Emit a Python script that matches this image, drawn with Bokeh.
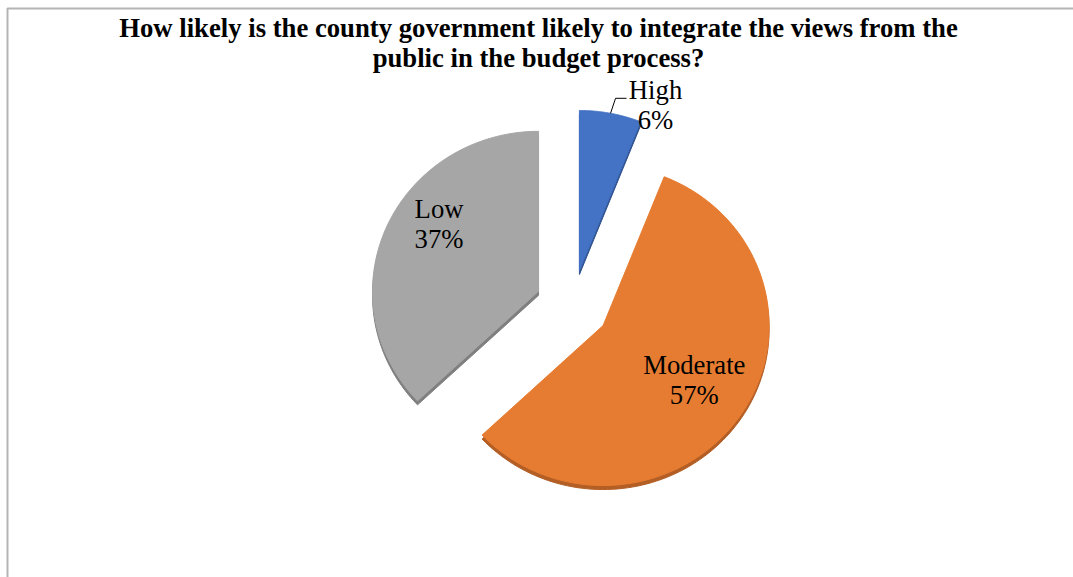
import numpy as np
from bokeh.plotting import figure
from bokeh.models import Range1d, ColumnDataSource
from bokeh.embed import file_html
from bokeh.resources import INLINE
from bokeh.core.properties import value

# ---------------- data ----------------
title_lines = [
    "How likely is the county government likely to integrate the views from the",
    "public in the budget process?",
]
categories = ["High", "Moderate", "Low"]
percent = [6, 57, 37]
colors = ["#4472C4", "#E67C31", "#A6A6A6"]
side_colors = ["#2F528F", "#B35E25", "#7F7F7F"]

# ---------------- layout ----------------
W, H = 1073, 577
FONT = "Liberation Serif"
FS = "26.7px"
TEXT_DY = -9           # empirical baseline correction (pixels)


def Y(py):
    return H - py


cx, cy = 572, 305      # pie centre (pixels, from top-left)
RX, RY = 166, 160      # slightly tilted (3-D) pie
EXPLODE = 37           # explosion distance
DEPTH = 4              # 3-D side thickness
# label anchors: (radial factor along bisector, angle tweak in deg)
label_cfg = {"High": None, "Moderate": (0.67, 0.7), "Low": (0.695, 7.0)}

p = figure(width=W, height=H, x_range=Range1d(0, W), y_range=Range1d(0, H),
           output_backend="svg", toolbar_location=None, min_border=0,
           x_axis_location=None, y_axis_location=None)
p.grid.visible = False
p.outline_line_color = None
p.background_fill_color = "white"
p.border_fill_color = "white"

# frame lines (left and top)
p.line(x=[7, 7, W], y=[0, Y(8), Y(8)], line_color="#B4B4B4", line_width=2)

total = float(sum(percent))
a0 = np.cumsum([0] + percent[:-1]) / total * 2 * np.pi
a1 = np.cumsum(percent) / total * 2 * np.pi
mid = (a0 + a1) / 2
ax = cx + EXPLODE * np.sin(mid)
ay = cy - EXPLODE * RY / RX * np.cos(mid)

xs, ys, ys_side = [], [], []
for i in range(len(categories)):
    t = np.linspace(a0[i], a1[i], 120)
    px = np.concatenate([[ax[i]], ax[i] + RX * np.sin(t), [ax[i]]])
    py = np.concatenate([[ay[i]], ay[i] - RY * np.cos(t), [ay[i]]])
    xs.append(list(px))
    ys.append(list(Y(py)))
    ys_side.append(list(Y(py + DEPTH)))

src = ColumnDataSource(dict(xs=xs, ys=ys, ys_side=ys_side, color=colors,
                            side=side_colors, cat=categories))
p.patches(xs="xs", ys="ys_side", fill_color="side", line_color="side", source=src)
p.patches(xs="xs", ys="ys", fill_color="color", line_color="color", source=src)

# labels
lx, ly, lt = [], [], []
LINE = 30
for i, cat in enumerate(categories):
    txt2 = f"{percent[i]}%"
    cfg = label_cfg[cat]
    if cfg is None:
        # outside label with leader line
        sx = ax[i] + 1.0 * RX * np.sin(mid[i])
        sy = ay[i] - 1.0 * RY * np.cos(mid[i])
        kx, ky = sx + 5, sy - 15
        ex = kx + 11
        p.line(x=[sx, kx, ex], y=[Y(sy), Y(ky), Y(ky)], line_color="black", line_width=1)
        tx = ex + 29
        b1 = ky + 1
    else:
        f, tw = cfg
        ang = mid[i] + np.radians(tw)
        tx = ax[i] + f * RX * np.sin(ang)
        ty = ay[i] - f * RX * np.cos(ang)
        b1 = ty - LINE / 2
    lx += [tx, tx]
    ly += [Y(b1 + TEXT_DY), Y(b1 + LINE + TEXT_DY)]
    lt += [cat, txt2]

p.text(x=lx, y=ly, text=lt, text_font=value(FONT), text_font_size=FS,
       text_align="center", text_baseline="alphabetic", text_color="black")

# title
p.text(x=[538, 538], y=[Y(36.5 + TEXT_DY), Y(66 + TEXT_DY)], text=title_lines,
       text_font=value(FONT), text_font_size=FS, text_font_style="bold",
       text_align="center", text_baseline="alphabetic", text_color="black")

open("out.html", "w").write(file_html(p, INLINE))
